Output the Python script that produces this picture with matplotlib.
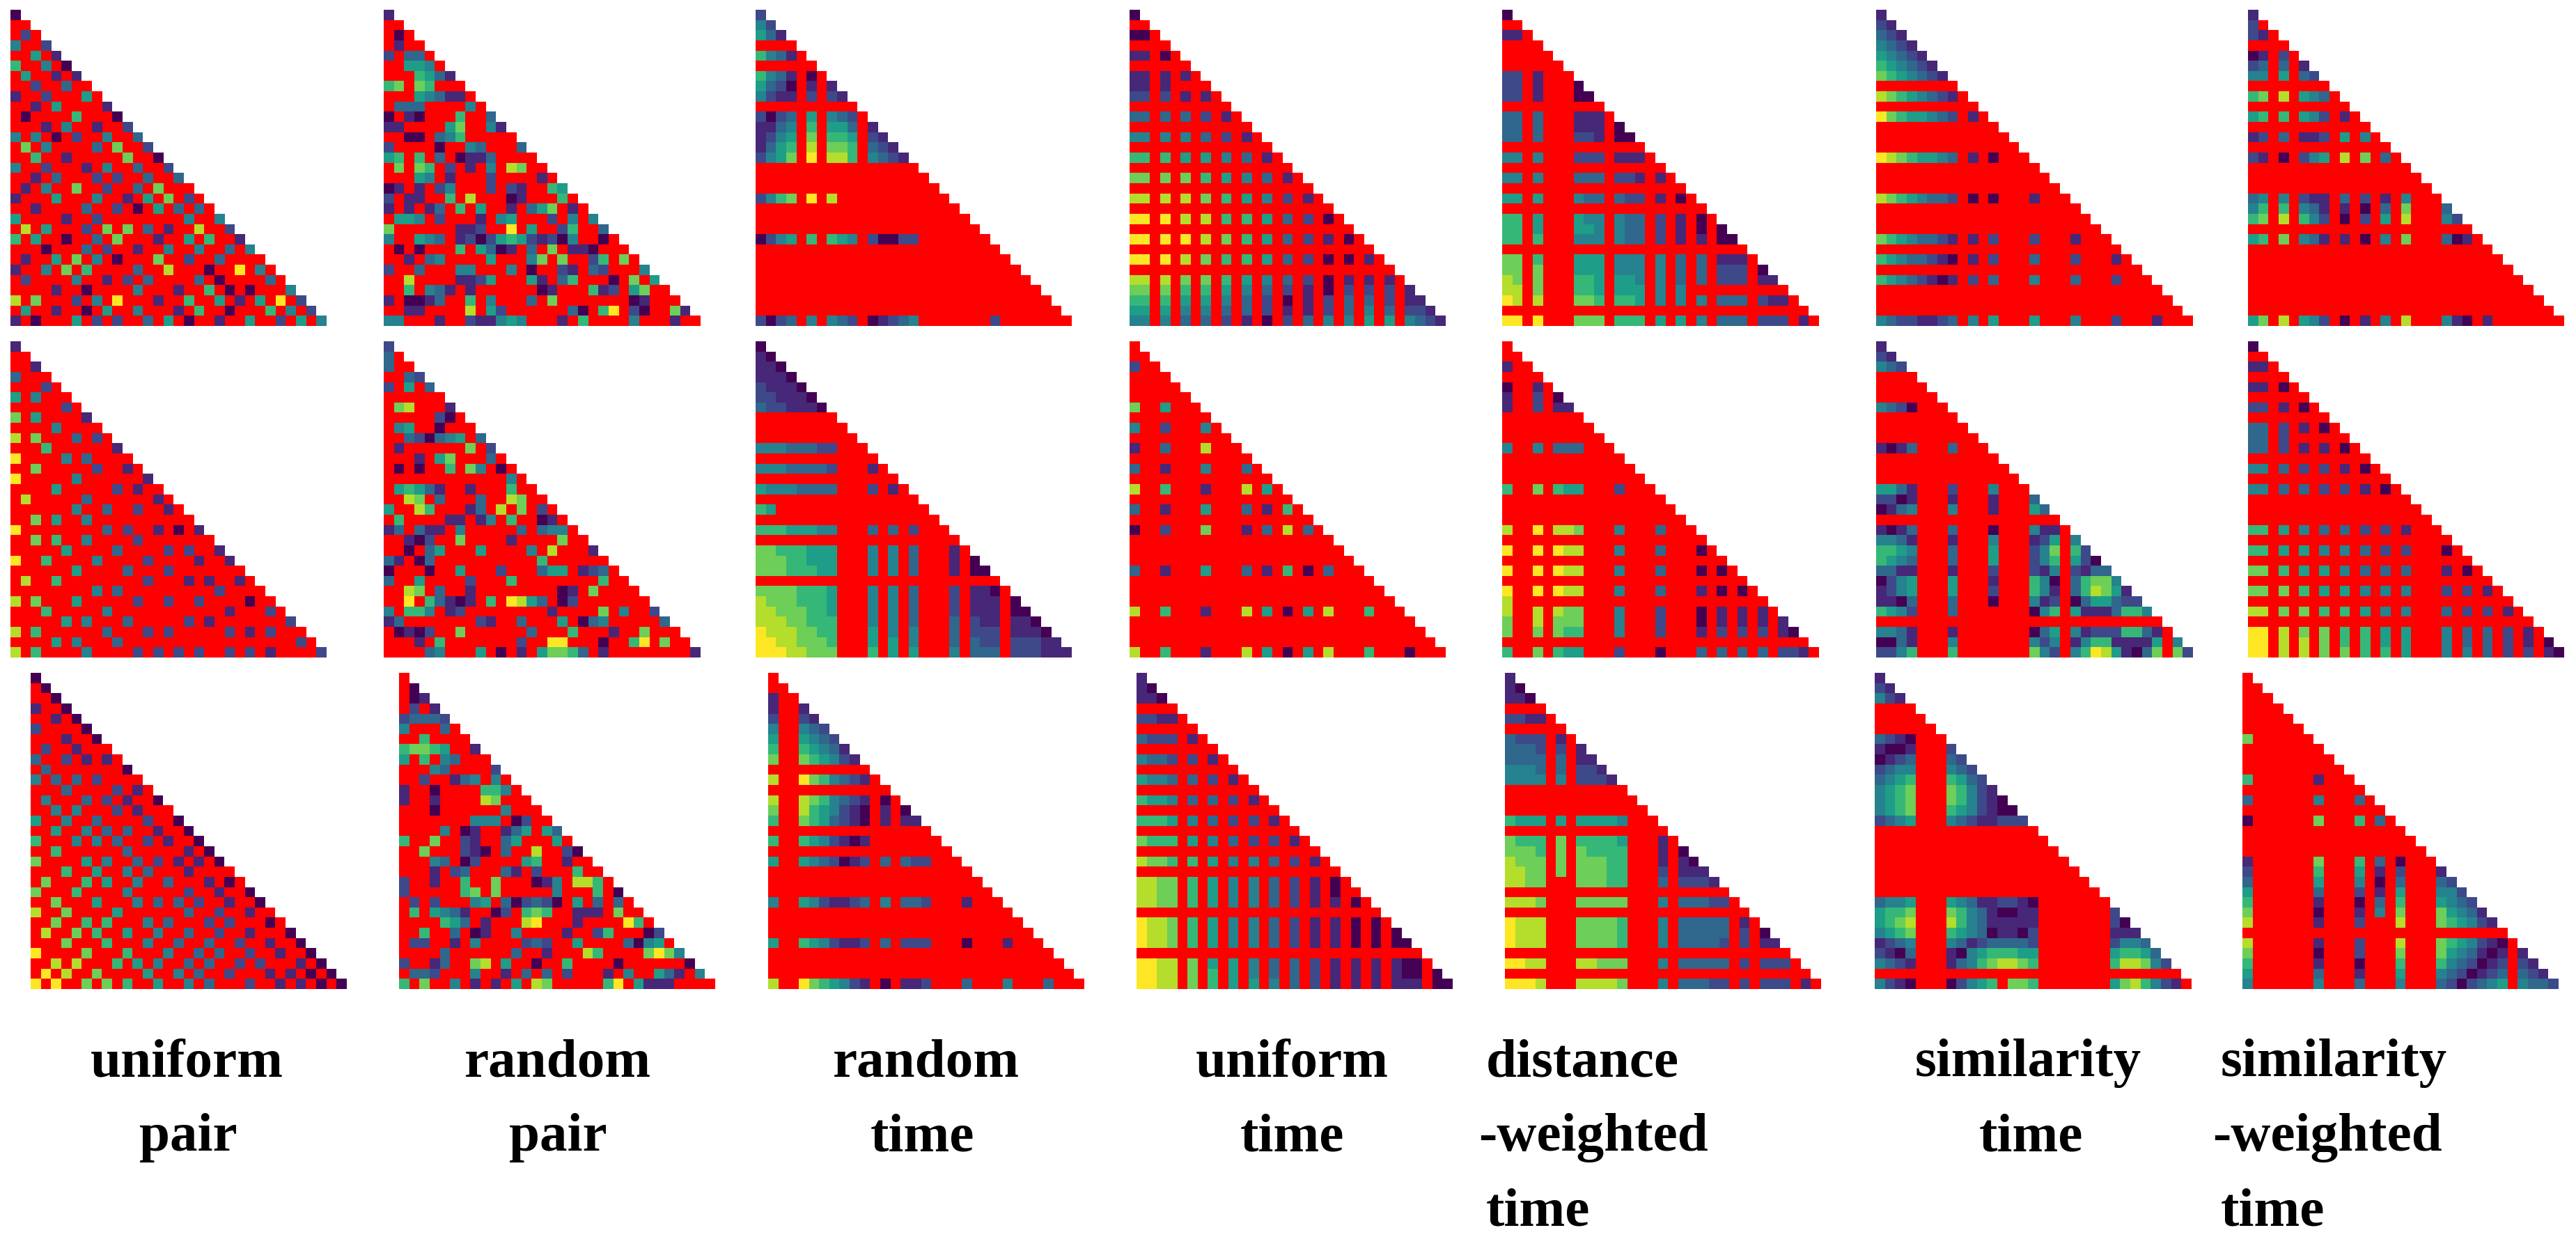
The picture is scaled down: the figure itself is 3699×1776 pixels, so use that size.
import numpy as np
import matplotlib
matplotlib.use("Agg")
import matplotlib.pyplot as plt
from matplotlib.colors import ListedColormap

# each row of a triangle: digit = value level 0-9 on viridis, "." = red cell
# (short rows are filled up with red)
a_uniform_pair = ["0","..",".2.","4..2","..5.1","6..4.0",".5..1.1","..2..3..","1..2...5.","..1.5....1",
".0....6...0","...1.4..1..2","4.4.0.2..4..3",".7.4....3.7..2","..6..1.....7..0","4..2...1.4..3..2",
"..1.3...2.2..3..3",".1.4..7..2..3.7...","1...5...4..1.5.7.2.","..1....3..2.0.5.3.3.","5....1..2........4..4",
".8.5...2.7.7.3.1..8..2","6.5..0..3.7...1..5.6..1","...0...3.2..1..4..4..3.4",".1..5.7.4.0...7..2..3....",
"1..4.7.6....3..8...0..9.4.",".2....4..1.2.3....3.0....3.","....1..0....4...1..6.0.0...4","8.7...2.4.9...1..6..5.1.5.9.2",
".5..1..0.5..4...1.6..0...6.4.2","1.0...5.2.2..3.5.0..1..5..2.5.4"]
a_random_pair = ["1","..",".0.",".1..","2.33.","..554.","...6531","67.76...","...54311.",".333....4.",
"0.10...6..3","11....57..41","..00.346.....","2....0..43...3","56.6.3.0113....",".7.76.2.1.4.87..",
"...54.1...2....1.","01.1.24...2.21..65","2.11..6.8...01...6.","1.1.13.6.5..1.357.1.",".554.2...1.45...2.4.4",
"7......112..9.5..26..3","4..543.120256521204..0.",".0.0...6.5301.3.7.110...","..1.34....5...47.7..26.7.",
"2..3...44...4.0..21.32...4","..8....1125...51.36...0.7.5","..6.431.1......01...612.57..","1.0013..6.4...3.7.......01...",
"..11....8.52......30.69.20..71","44...1..211454...1.6....4...1.."]
a_random_time = ["2","42","531","","6431.","","6431.0.","5320.1.1","4211.2.21","",
"2023.5.432.","1134.6.553.1","1245.7.665.21","1356.8.776.321","2457.9.886.4321","","","","2467.9.8","",
"","","0245.6.654.20022","","","","","","","",
"2023.4.432.01234.......2"]
a_uniform_time = ["0","","00.","","11.0.","","11.1.1.","11.1","22.2.1.1.","",
"33.3.3.2.1.","","44.4.4.3.2.1.","","66.6.5.5.4.3.1.","","77.7.7.6.5.4.3.1.","","88.8.8.7.6.5.4.2.1.","",
"99.9.8.8.6.6.5.3.2.0.","","99.9.9.8.7.6.5.3.2.1.0.","","99.9.8.7.6.6.5.3.2.0.0.1.","","88.8.7.7.6.5.4.3.2.0.1.1.1.",
"77.7.6.6.5.4.3.2.1.0.2.2.2.1","66.6.5.5.4.3.2.0.1.2.3.3.2.11","55.5.4.4.3.3.2.1.1.2.3.4.3.221","44.4.3.3.2.1.0.2.3.4.4.5.5.4321"]
a_distance_time = ["0","","11.","","","","22.1...","22.1...0","22.1...00","",
"33.3...111.","33.3...111.0","33.3...221.00","","44.4...222.111.","","44.4...333.221.1.","","55.5...433.322.1.0.","",
"66.5...544.433.2.1.0.","66.5...554.433.2.1.0.0","66.6...444.433.2.1.1.00","","77.6...555.444.4.3.3.111.","77.7...555.444.4.3.3.222.0",
"87.7...665.554.4.3.3.222.11","88.7...665.555.4.4","98.8...776.665.4.4.4.333.211.","","99.9...777.666.5.5.4.333.222.1."]
a_similarity_time = ["1","21","321","4321","54321","654321","7654321","","87654321.","",
"97655432.1.","","","","98765543.1.0...","","","","87654332.0.0...1...","",
"","","76543321.1.2...2...1...","","65433210.1.2...3...2...1.","","65432101.2.3...4...3...2...",
"","","","43221123.4.5...5...4...2...1..."]
a_similarity_weighted = ["1","2.","21.","","01.2.","23.3.1","44.5.32","","67.8.543.","",
"56.6.542.1.","","12.3.112.5.4.","","21.0.245.8.7.3.","","","","34.4.211.3.2.1.4...","46.6.431.1.0.3.7...3",
"67.8.642.0.2.5.8...42","","56.7.431.1.0.4.7...301.","","","","","","","",
"57.8.542.0.1.4.8...410.1"]

b_uniform_pair = ["1","","..1","3...","...2.","5.4...",".....2.","7.5....1","....4....","8.7...3.2.",
"...6......1","9....4.3....","..7.....2..1.","9.....4......1","....5.....2.1..",".8.....3......1.",
"......4..3..2..1.","..7.5..4","9........3.2..1.0.1","..7.6..4....2",".....5....3....2.2..1",
"9..6....4....2....1..1","......5....3...2",".8..6........2...1.1..1.","........4.3.........2....",
"8.7...5.....2..2..2....0..","...6.....4...........1...2.",".....5.4...3.....2.1.......2","8.6......3...2.2.....2.1.2...",
"....5.4...3.................2.","8.6....4....2.2.2.2..2.2.1....2"]
b_random_pair = ["2","3.","3..","..32","2.5.3","",".78...1",".....20.",".45..0...","..320345.3",
".1......7.2","...1.57...3.",".0.0..6.74.0.","............4.",".56531..1...6..","..87.3...3..87..",
"5..86...13.8.7.2.",".6....11.14.6..01.","13.311.4.....3.344.","..102..7....1....7..","..0.35...5....4.8...1",
"31.03..........6","0...0..5...2...355.123.","3..5....2...6........6..","..87.3..1........01.7....",
"..9.63101.6.9853.02","4.664.12........1....7.4..2","13.......21..3...5.034.....3",".0102..7......3...6...1..7...",
"...1.6.......2..99...0..69.7..","....34...5.0.1.57763.1........1"]
b_random_time = ["0","10","110","1110","21110","221110","3221110","","","",
"44433322...","","44433332...1.","","54443333...2.1.","","65","","66655544...3.3.2...","",
"77666555...4.4.3...1.","77766555...4.4.3...1.0","77766655...4.4.3...1.00","","77776665...4.4.3...2.110.","87776665...4.4.3...2.111.0",
"88777665...4.4.3...2.111.00","88877666...4.4.3...3.211.110","98887766...5.4.4...3.222.1110","99887776...5.5.4...3.322.22211",
"99988777...6.5.5...4.333.222111"]
b_uniform_time = ["","","2..","","","","7..5...","","4..2...4.","",
"1..3...8...","","3..1...4...3.","","8..6...1...8.5.","","3..1...5...3.1.6.","","0..2...7...1.3.8.3.","",
"","","3..1...5...3.1.6.0.3...","","","","8..6...1...8.5.0.5.8...6...","","","",
"8..6...1...8.5.0.5.8...6...0..."]
b_distance_time = ["","","1..","","0..1.","1..2.0","1..2.11","","","",
"4..4.333...","","","","6..7.655...2...","","","","8..9.887...4...3...","",
"9..9.988...4...3...0.","","9..9.988...4...3...0.0.","","9..9.988...4...3...1.0.0.","8",
"8..8.877...4...2...0.1.1.1.","7..8.777...4...2...0.1.1.1.1","7..7.766...4...2...1.2.2.2.10","","6..7.655...2...0...3.3.3.3.221."]
b_similarity_time = ["1","21","432","","","","4320...","","","",
"1013...3...","","","","5531...2...4...","2201...1...1...3","0134...4...1...53","","1013...3...0...411.","4431...1...4...125.4",
"6654...3...5...247.62","6543...3...5...246.520","3311...1...2...214.2133","0245...5...1...640.36774","1245...5...2...641.368751",
"1103...3...0...412.0355322","6542...3.......046.51113664","","4431...1.......035.412226631.","0031...4.......424.146611115.4",
"2246...6.......742.469851037.72"]
b_similarity_weighted = ["0","","11.","","11.0.","","22.1.0.","","33.2.1.0.","33.2",
"33.2.1.1.0.","","44.3.2.2.1.0.","","44.3.3.2.2.1.0.","","","","66.5.4.3.3.2.2.1...","",
"66.5.5.4.4.3.2.2...0.","","77.6.5.5.4.3.3.3...1.0.","","77.7.6.5.5.4.4.4...2.2.1.","","88.7.7.6.6.5.4.4...3.2.2.1.",
"","99.8.7.7.6.6.5.5...4.3.3.2.1.","99.8.8.7.6.6.5.5...4.3.3.2.1.0","99.8.8.7.7.6.6.5...4.4.3.2.2.10"]

c_uniform_pair = ["0",".0","..0","1..0","..1.0","2....0","...1..0",".2..1...","3..2.1.1.",".3.......0",
"4.3.3.2....","...3....2.1.",".4...3.2.1..0","..4.4...2.1...","5..4..3....2..0","..5..4.3.3..1..0",
"6...4.4.3..2.1..0","..6......3.....1.0","7....5.4..3.2.1.1.0","...6..5..4.3...1....",".7...6.5..4..3...1.0.",
"7...6....4.....2..1..0","..7...5...4.3.3.2..1..0","8..7....5......3..2..1..","..7..6.6...4.3...2.2...0.",
".8..7.6..5..4..3..2..1...0","...7...6...4..3..3..2..1..0","9....7...6...4..3.3..2..1..0","..8.8...6.5.4..3.3..2.2...1.0",
".9.8..7....5..4.3..2...1.1.0.0","9.9..7.7.6..5..4.3...2..1.1.0.0"]
c_random_pair = ["",".0",".01",".2.1","23332","4...3.","..6....","67765..1","5.6.43...","...43....2",
"..2..134.4.","1..0....664.","1..1....87...","...0......4...",".......444.02..","....4.01..135.53",
"6..7..21..35...5.","..7...210.3..8..20","...43.02....56..1..","...1.23...31.2...6..","2..1..6..7...014.886.",
"2.....67.7.....4...6.0",".2.2...45.302320.5.3.3.",".6.5431..02.676..111.7..","....653.1...89...1....96.",
"..6..3.01..4....1..26...02",".22..1.4....232..5....3045.","....3......3..1...86....7974","2..13..78.5..0..6....0......0",
".332...4..1.3.3.2...1.4..531.4","6.7..4.1.1.5.87.....69.5111...."]
c_random_time = ["","","1..","1..1","2..21","4..432","5..5432","6..65431","7..765421","",
"8..9764321.","","8..8764321.0.","7..8654210.1.0","6..7653210.1.11","","6..6542101","","5..5432012.3.322...","",
"","","4..5421123.4.332...1...","","","","5..6542112.3.222...0...1...","","","",
"8..9765421.0.112...3...4...3..."]
c_uniform_time = ["1","10","110","","2211.","","3222.1.","","4332.2.1.","",
"5443.3.2.1.","","6554.3.3.2.1.","","6665.4.3.2.2.1.","","7666.5.4.3.2.2.1.","","8776.6.5.4.4.3.2.1.","",
"8877.6.5.4.4.3.2.1.0.","8877.6.5.4.4.3.2.1.0..","8877.6.5.4.4.3.2.1.1.0.","","9887.6.5.4.4.3.2.1.1.0.0.","9887.6.5.4.4.3.2.1.1.0.0.0",
"9887.6.5.4.4.3.2.1.1.0.0.00","","9988.7.5.5.4.3.3.2.1.1.1.100.","9988.7.6.5.4.3.3.2.1.1.1.100.0","9988.7.6.5.5.4.3.2.1.1.1.111.00"]
c_distance_time = ["1","10","110","","2211.","","3222.1.","3332.2.1","3333.3.11","4443.3.221",
"4444.4.2221","","","","6555.5.55554...","","7666.7.66665...1.","7776.7.76666...1.0","8777.7.77766...1.10","8877.7.77766...2.111",
"8877...77766...3.2221","","8887...77777...4.33322.","","9888...77776...4.33333.1.","9888...77776...4.33333.2.0",
"9888...77776...4.33332.2.11","","9988...88777...4.33333.2.222.","","9998...88887...4.33322.2.222.1."]
c_similarity_time = ["1","21","421","","","","3210...","1001...2","0123...32","2344...432",
"3456...6532","4567...76421","4567...764210","4567...6542100","2345...43211222","","","","","",
"","","3445...543112210","5667...764310011.......2","5678...864311111.......20",
"4567...654301102.......111","1234...431233332.......2443","2103...104566655.......56653","4321...134678876.......688742","",
"4210...02456.776.......5786421."]
c_similarity_weighted = ["","","","","","","7","","","",
"6......1","","3......4...3.","","0......7...6.3.","","","","1......7...6.3.0","2......6...5.1.2...1",
"3......5...4.0.3...32","5......3...2.1.5...442","6......1...0.3.6...5432","7......0...1.4.7...75431","8......1...2...8...765421",
"","8......1...2...8...7654210.","7......0...2...7...7543101.1","6......1...0...6...6432012.21","5......3...1...5...4320123.321",
"4......4...3...4...3202345.4332"]

panels = [
    [a_uniform_pair, a_random_pair, a_random_time, a_uniform_time, a_distance_time, a_similarity_time, a_similarity_weighted],
    [b_uniform_pair, b_random_pair, b_random_time, b_uniform_time, b_distance_time, b_similarity_time, b_similarity_weighted],
    [c_uniform_pair, c_random_pair, c_random_time, c_uniform_time, c_distance_time, c_similarity_time, c_similarity_weighted],
]
label_lines = [["uniform", "pair"], ["random", "pair"], ["random", "time"], ["uniform", "time"],
               ["distance", "-weighted", "time"], ["similarity", "time"], ["similarity", "-weighted", "time"]]

W, H = 3699, 1776
N = 31
panel_size = 454
col_left = [[15, 551, 1085, 1622, 2157, 2694, 3228],
            [15, 551, 1085, 1622, 2157, 2694, 3228],
            [44, 573, 1103, 1632, 2161, 2692, 3220]]
row_top = [14, 490, 966]
label_left = [[130, 200], [667, 731], [1196, 1250], [1717, 1781], [2134, 2123, 2134], [2750, 2842], [3189, 3177, 3189]]
label_base = [1545, 1652, 1759]

red_map = ListedColormap(["red"])


def to_grid(rows):
    # triangle mask and value levels from the row strings
    vals = np.full((N, N), np.nan)
    tri = np.zeros((N, N), dtype=bool)
    for r, row in enumerate(rows):
        row = row.ljust(r + 1, ".")
        tri[r, :r + 1] = True
        for c, ch in enumerate(row[:r + 1]):
            if ch != ".":
                vals[r, c] = int(ch) / 9
    return tri, vals


fig = plt.figure(figsize=(W / 100, H / 100), dpi=100)

for i, row_panels in enumerate(panels):
    for j, rows in enumerate(row_panels):
        ax = fig.add_axes([col_left[i][j] / W, 1 - (row_top[i] + panel_size) / H, panel_size / W, panel_size / H])
        tri, vals = to_grid(rows)
        ax.imshow(np.ma.masked_where(~tri, np.zeros((N, N))), cmap=red_map, aspect="auto", interpolation="nearest")
        ax.imshow(np.ma.masked_invalid(vals), cmap="viridis", vmin=0, vmax=1, aspect="auto", interpolation="nearest")
        ax.axis("off")

for lines, lefts in zip(label_lines, label_left):
    for k, (line, left) in enumerate(zip(lines, lefts)):
        fig.text(left / W, 1 - label_base[k] / H, line, family="Liberation Serif", weight="bold",
                 fontsize=57, ha="left", va="baseline", color="black")

fig.savefig("out.png", dpi=100, facecolor="white")
